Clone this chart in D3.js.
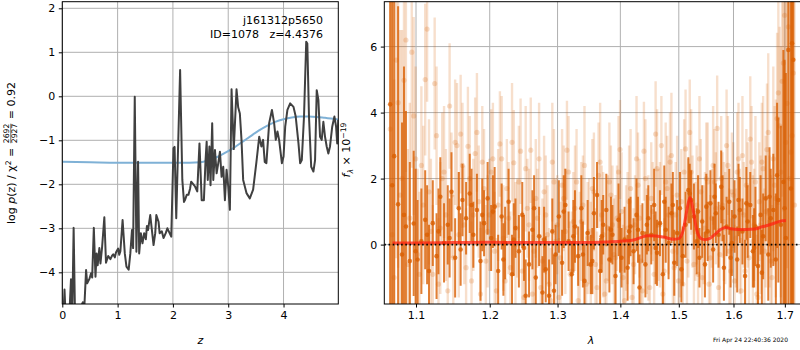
<!DOCTYPE html>
<html><head><meta charset="utf-8">
<script src="https://cdn.jsdelivr.net/npm/d3@7"></script>
<style>
body{margin:0;background:#fff}
svg{display:block;font-family:"DejaVu Sans",sans-serif}
text{white-space:pre}
</style></head><body>
<svg id="fig" width="800" height="350"></svg>
<script>
// ---- redshift probability: log p(z) ----
const zGrid = [0.00,0.02,0.04,0.06,0.10,0.13,0.157,0.18,0.205,0.23,0.27,0.32,0.37,0.40,0.43,0.45,0.49,0.52,0.54,0.57,
  0.60,0.62,0.64,0.67,0.69,0.72,0.76,0.79,0.83,0.87,0.90,0.92,0.95,0.97,1.01,1.03,1.05,1.09,1.13,1.16,
  1.20,1.23,1.26,1.28,1.31,1.34,1.37,1.39,1.42,1.45,1.48,1.51,1.53,1.55,1.59,1.62,1.65,1.68,1.70,1.74,
  1.76,1.80,1.83,1.87,1.90,1.94,1.97,2.01,2.03,2.06,2.13,2.17,2.20,2.22,2.25,2.28,2.31,2.33,2.37,2.40,
  2.44,2.48,2.52,2.56,2.59,2.61,2.63,2.66,2.68,2.71,2.73,2.76,2.79,2.82,2.85,2.88,2.91,2.94,2.97,3.00,
  3.03,3.06,3.10,3.15,3.18,3.21,3.24,3.27,3.33,3.39,3.45,3.51,3.56,3.60,3.63,3.66,3.69,3.74,3.79,3.83,
  3.86,3.89,3.92,3.97,4.00,4.03,4.07,4.12,4.18,4.22,4.27,4.30,4.33,4.37,4.41,4.43,4.46,4.50,4.54,4.57,
  4.60,4.63,4.66,4.69,4.72,4.75,4.78,4.81,4.84,4.88,4.92,4.95,4.97,4.99];
const logPz = [-4.75,-5.0,-4.39,-5.0,-5.1,-4.9,-4.16,-5.0,-2.99,-5.0,-5.1,-4.85,-4.68,-4.75,-3.95,-4.25,-4.15,-4.02,-4.12,-2.99,
  -4.10,-3.57,-3.84,-3.45,-3.80,-3.42,-2.75,-3.78,-3.63,-3.70,-3.62,-3.59,-3.66,-3.55,-3.46,-3.60,-3.52,-2.81,-3.57,-3.87,
  -3.94,-3.57,-3.04,-3.45,-0.01,-3.53,-1.49,-3.57,-3.11,-3.34,-3.11,-3.25,-2.95,-3.04,-2.70,-3.04,-3.38,-3.11,-2.70,-2.85,
  -3.11,-3.07,-3.22,-3.11,-3.00,-3.11,-3.19,-1.18,-1.15,-2.77,0.60,-1.90,-2.40,-2.35,-2.24,-2.24,-2.10,-1.94,-2.00,-2.05,
  -2.16,-1.07,-2.36,-2.36,-1.45,-1.03,-1.90,-1.14,-2.02,-0.61,-1.90,-1.22,-1.75,-1.52,-1.26,-1.83,-1.60,-2.36,-1.67,-2.05,
  -2.58,0.16,-1.20,0.16,-0.25,-0.39,-0.99,-1.90,-2.20,-2.32,-2.12,-1.49,-0.92,-1.14,-0.99,-1.49,-1.52,-0.61,-0.31,-0.61,
  -0.99,-0.80,-0.99,-1.52,-1.37,-0.69,-0.31,-0.16,-0.24,-0.46,-1.07,-1.52,-1.45,-0.46,1.24,1.20,-0.46,-1.60,-1.71,-1.45,
  0.14,-0.08,-0.92,-0.99,-0.58,-0.92,-1.14,-1.30,-1.14,-0.69,-0.46,-0.69,-1.07,-0.54];

// smooth prior curve
const priorZ = [0,0.5,1.0,1.5,2.0,2.3,2.5,2.65,2.8,2.95,3.1,3.25,3.4,3.55,3.7,3.85,4.0,4.15,4.3,4.45,4.6,4.75,4.9,4.99];
const priorLogP = [-1.49,-1.50,-1.51,-1.51,-1.51,-1.51,-1.50,-1.45,-1.38,-1.28,-1.17,-1.04,-0.91,-0.78,-0.67,-0.58,-0.52,-0.48,-0.46,-0.46,-0.47,-0.49,-0.51,-0.53];

// ---- 1D spectra: wavelength grids shared by the beams ----
const waveA = [1.067,1.072,1.077,1.082,1.087,1.092,1.097,1.102,1.107,1.112,
  1.117,1.122,1.127,1.132,1.137,1.142,1.147,1.152,1.157,1.162,
  1.167,1.172,1.177,1.182,1.187,1.192,1.197,1.202,1.207,1.212,
  1.217,1.222,1.227,1.232,1.237,1.242,1.247,1.252,1.257,1.262,
  1.267,1.272,1.277,1.282,1.287,1.292,1.297,1.302,1.307,1.312,
  1.317,1.322,1.327,1.332,1.337,1.342,1.347,1.352,1.357,1.362,
  1.367,1.372,1.377,1.382,1.387,1.392,1.397,1.402,1.407,1.412,
  1.417,1.422,1.427,1.432,1.437,1.442,1.447,1.452,1.457,1.462,
  1.467,1.472,1.477,1.482,1.487,1.492,1.497,1.502,1.507,1.512,
  1.517,1.522,1.527,1.532,1.537,1.542,1.547,1.552,1.557,1.562,
  1.567,1.572,1.577,1.582,1.587,1.592,1.597,1.602,1.607,1.612,
  1.617,1.622,1.627,1.632,1.637,1.642,1.647,1.652,1.657,1.662,
  1.667,1.672,1.677,1.682,1.687,1.692,1.697,1.702,1.707,1.712,1.717];
const waveB = [1.0695,1.0745,1.0795,1.0845,1.0895,1.0945,1.0995,1.1045,1.1095,1.1145,
  1.1195,1.1245,1.1295,1.1345,1.1395,1.1445,1.1495,1.1545,1.1595,1.1645,
  1.1695,1.1745,1.1795,1.1845,1.1895,1.1945,1.1995,1.2045,1.2095,1.2145,
  1.2195,1.2245,1.2295,1.2345,1.2395,1.2445,1.2495,1.2545,1.2595,1.2645,
  1.2695,1.2745,1.2795,1.2845,1.2895,1.2945,1.2995,1.3045,1.3095,1.3145,
  1.3195,1.3245,1.3295,1.3345,1.3395,1.3445,1.3495,1.3545,1.3595,1.3645,
  1.3695,1.3745,1.3795,1.3845,1.3895,1.3945,1.3995,1.4045,1.4095,1.4145,
  1.4195,1.4245,1.4295,1.4345,1.4395,1.4445,1.4495,1.4545,1.4595,1.4645,
  1.4695,1.4745,1.4795,1.4845,1.4895,1.4945,1.4995,1.5045,1.5095,1.5145,
  1.5195,1.5245,1.5295,1.5345,1.5395,1.5445,1.5495,1.5545,1.5595,1.5645,
  1.5695,1.5745,1.5795,1.5845,1.5895,1.5945,1.5995,1.6045,1.6095,1.6145,
  1.6195,1.6245,1.6295,1.6345,1.6395,1.6445,1.6495,1.6545,1.6595,1.6645,
  1.6695,1.6745,1.6795,1.6845,1.6895,1.6945,1.6995,1.7045,1.7095,1.7145,1.7195];
const waveC = [1.0695,1.0845,1.0995,1.1145,1.1295,1.1445,1.1595,1.1745,1.1895,1.2045,
  1.2195,1.2345,1.2495,1.2645,1.2795,1.2945,1.3095,1.3245,1.3395,1.3545,
  1.3695,1.3845,1.3995,1.4145,1.4295,1.4445,1.4595,1.4745,1.4895,1.5045,
  1.5195,1.5345,1.5495,1.5645,1.5795,1.5945,1.6095,1.6245,1.6395,1.6545,
  1.6695,1.6845,1.6995,1.7145];

// beam 1 (strong) on grid A
const fluxA = [4.25,2.68,1.22,-0.30,0.55,-0.50,0.64,-0.45,0.10,0.75,
  -0.80,0.65,-0.35,1.45,0.05,0.60,1.60,-0.40,1.10,1.35,
  0.80,1.55,0.30,1.05,-0.50,0.65,1.40,0.20,1.15,-0.80,
  0.85,0.05,1.30,-0.90,0.50,-0.20,0.90,-1.55,-0.60,0.45,
  -1.00,0.25,-1.45,-0.75,-1.55,0.40,-0.30,0.85,-0.55,1.20,
  0.10,-0.90,0.55,-0.35,1.10,-1.10,0.35,-0.60,0.95,1.50,
  -0.80,0.60,1.05,-0.45,0.30,-0.95,0.75,-0.40,0.15,-0.70,
  0.55,-0.20,0.90,-1.30,0.35,-0.60,0.80,0.30,1.20,-0.25,
  0.65,-0.90,0.45,0.05,0.95,-0.55,0.35,1.10,-0.35,0.60,
  1.65,1.35,0.85,0.10,-0.40,0.70,-0.60,0.40,1.25,-0.15,
  0.95,0.30,1.75,-0.70,0.55,1.30,0.05,0.85,-0.45,1.05,
  0.40,-0.95,0.70,1.20,-0.20,0.55,-0.65,0.90,0.25,1.40,
  -0.30,0.80,1.05,-0.45,1.35,0.60,1.90,0.20,5.90,1.70,5.60];
const errA = [9,8,6,4,3.5,3,2.2,1.8,1.6,1.5,
  1.4,1.3,1.3,1.2,1.2,1.2,1.2,1.2,1.1,1.1,
  1.1,1.2,1.0,1.1,1.2,1.0,1.1,1.0,1.2,1.1,
  1.0,1.1,1.0,1.2,0.9,1.1,1.0,1.1,1.0,1.2,
  1.0,0.9,1.1,1.0,1.1,1.0,0.9,1.1,1.0,1.1,
  0.9,1.0,1.1,0.9,1.0,1.1,1.0,0.9,1.1,1.0,
  1.0,0.9,1.1,1.0,0.9,1.0,1.1,0.9,1.0,1.0,
  0.9,1.0,1.1,1.0,0.9,1.0,1.0,0.9,1.1,1.0,
  1.0,0.9,1.0,1.1,0.9,1.0,1.0,1.1,0.9,1.0,
  1.0,0.9,1.0,1.0,0.9,1.1,1.0,0.9,1.0,1.0,
  0.9,1.0,1.1,1.0,0.9,1.0,1.0,1.1,1.0,1.0,
  1.0,1.1,1.1,1.0,1.1,1.2,1.2,1.2,1.3,1.3,
  1.4,1.5,1.7,2.0,2.5,3.0,4.0,5.0,8,8,9];

// beam 2 (strong, partial coverage) on grid C
const fluxC = [1.80,0.90,-0.20,0.30,0.40,0.20,-0.15,1.20,0.90,1.00,
  -0.45,0.15,-0.10,1.10,0.15,-1.40,1.00,0.25,-0.30,-0.50,
  0.25,0.45,0.05,0.40,0.45,0.60,-0.10,1.30,1.20,-0.75,
  1.55,1.00,1.15,1.45,1.10,-0.40,1.35,1.25,-0.10,-0.85,
  1.45,2.10,1.10,6.10];
const errC = [8,4.5,2.5,1.5,1.3,1.2,1.1,1.1,1.1,1.1,
  1.1,1.1,1.0,1.0,1.0,1.1,1.1,1.1,1.0,1.0,
  1.1,1.0,0.9,1.0,1.0,0.9,1.1,1.1,1.0,1.0,
  0.9,1.1,1.0,1.0,1.0,0.9,1.1,1.1,1.2,1.3,
  1.5,2.2,4.5,8];

// contaminated beams (faint) on grid B and grid A
const fluxB = [0.3,5.59,1.5,4.98,-0.6,5.83,2.6,-0.9,1.2,6.53,
  0.4,4.88,-1.2,2.0,0.9,4.2,-0.4,3.0,3.35,0.6,
  2.98,-1.1,2.76,1.3,2.5,-0.5,0.9,2.6,-1.4,3.05,
  0.2,1.7,-0.7,2.48,0.5,2.83,-1.6,1.1,2.86,-0.2,
  0.8,-1.3,1.6,0.3,-1.7,1.9,0.6,-0.4,1.4,2.86,
  -0.9,0.7,1.9,-0.1,1.2,-1.2,0.4,1.7,-0.6,2.1,
  0.9,-1.5,0.5,1.5,-0.3,0.8,2.88,-1.0,0.2,1.3,
  -1.6,0.6,1.8,-0.5,2.83,0.1,-1.3,1.0,3.35,0.6,
  3.0,-0.8,1.7,2.5,-0.2,0.9,-1.1,1.3,2.2,-0.5,
  3.4,1.0,0.4,-0.9,1.6,0.3,2.0,-1.2,0.8,1.9,
  3.52,-0.3,1.2,0.5,2.4,-0.8,1.5,0.2,2.6,-1.4,
  0.9,1.8,-0.4,2.5,0.6,-1.5,1.3,2.5,-0.2,2.88,
  0.7,-1.0,1.8,3.82,3.6,4.95,6.95,4.28,2.0,3.3,1.2];
const errB = [8,6,5,4,3.5,3.5,2.8,2.5,2.4,2.2,
  2.2,2.0,2.0,2.0,2.0,1.9,1.9,1.9,1.8,1.8,
  1.8,1.8,1.7,1.7,1.7,1.7,1.7,1.7,1.6,1.6,
  1.6,1.5,1.7,1.6,1.5,1.6,1.7,1.5,1.6,1.6,
  1.5,1.6,1.7,1.5,1.6,1.6,1.5,1.7,1.6,1.5,
  1.6,1.5,1.6,1.7,1.5,1.6,1.6,1.5,1.7,1.6,
  1.5,1.6,1.6,1.5,1.7,1.6,1.5,1.6,1.6,1.7,
  1.6,1.5,1.6,1.7,1.5,1.6,1.6,1.5,1.6,1.7,
  1.5,1.6,1.6,1.5,1.7,1.6,1.5,1.6,1.6,1.5,
  1.6,1.7,1.5,1.6,1.6,1.5,1.7,1.6,1.5,1.6,
  1.6,1.5,1.6,1.7,1.5,1.6,1.6,1.5,1.7,1.6,
  1.6,1.7,1.7,1.7,1.7,1.8,1.8,1.8,1.9,2.0,
  2.0,2.2,2.4,2.6,3.0,3.5,4.5,5,6,7,8];
const fluxD = [3.5,-1.0,4.3,2.0,6.2,0.8,3.9,-0.3,2.4,5.0,
  1.6,-0.9,3.3,0.5,2.2,-1.4,1.5,3.1,0.3,2.4,
  -0.7,2.0,0.9,3.4,-1.5,1.7,0.4,2.2,-0.2,1.2,
  2.6,-1.1,0.8,3.1,0.0,1.9,-0.8,2.3,0.6,-1.5,
  1.4,2.6,-0.5,0.9,-1.2,2.5,0.1,-1.6,1.8,0.4,
  2.2,-0.8,1.1,-1.7,0.7,2.4,0.2,-0.6,1.6,-1.3,
  2.5,0.3,-1.1,1.9,0.6,-0.4,2.2,1.0,-1.7,0.5,
  1.7,-0.6,2.6,0.8,-1.4,2.0,0.2,1.4,-0.9,2.3,
  0.6,-1.5,1.9,0.9,2.7,-0.7,1.5,0.3,-1.2,2.9,
  0.8,2.2,-0.6,1.2,2.6,-1.0,0.5,1.9,-0.4,2.4,
  1.1,-1.3,2.0,0.7,3.0,-0.2,1.6,-1.1,2.2,0.4,
  2.7,-0.8,1.2,3.2,0.1,1.9,-1.6,0.6,2.3,1.0,
  3.4,-0.5,2.6,1.4,4.6,2.2,5.5,3.1,6.6,2.8,5.2];
const errD = [7,6,5,4.5,4,3.5,3,2.6,2.4,2.3,
  2.2,2.1,2.1,2.0,2.0,2.0,1.9,1.9,1.9,1.9,
  1.8,1.9,1.7,1.8,2.0,1.8,1.7,1.9,1.8,1.7,
  1.9,1.8,1.7,1.8,1.9,1.7,1.8,1.9,1.7,1.8,
  1.8,1.7,1.9,1.8,1.7,1.8,1.9,1.8,1.7,1.9,
  1.7,1.8,1.9,1.7,1.8,1.8,1.7,1.9,1.8,1.7,
  1.8,1.9,1.7,1.8,1.8,1.9,1.7,1.8,1.9,1.7,
  1.8,1.7,1.9,1.8,1.7,1.8,1.9,1.7,1.8,1.8,
  1.9,1.7,1.8,1.8,1.9,1.7,1.8,1.9,1.7,1.8,
  1.8,1.9,1.7,1.8,1.9,1.8,1.7,1.8,1.9,1.8,
  1.7,1.8,1.9,1.8,1.7,1.9,1.8,1.7,1.8,1.9,
  1.8,1.9,1.9,1.9,2.0,2.0,2.1,2.1,2.2,2.3,
  2.4,2.6,2.8,3.0,3.4,3.8,4.5,5.5,6.5,7.5,8];

// best-fit template
const modelWave = [1.070,1.10,1.15,1.20,1.25,1.30,1.35,1.38,1.40,1.42,1.435,1.445,1.46,1.475,1.49,1.50,1.508,1.515,1.520,1.525,1.532,1.540,1.548,1.555,1.565,1.575,1.585,1.595,1.61,1.625,1.64,1.655,1.67,1.685,1.695,1.702];
const modelFlux = [0.05,0.05,0.06,0.07,0.06,0.06,0.06,0.08,0.10,0.13,0.22,0.27,0.26,0.22,0.16,0.18,0.45,1.10,1.43,1.10,0.45,0.18,0.15,0.18,0.30,0.45,0.52,0.48,0.46,0.46,0.47,0.54,0.60,0.68,0.72,0.73];

const zTicks = [0,1,2,3,4];
const pzTicks = [-4,-3,-2,-1,0,1,2];
const waveTicks = [1.1,1.2,1.3,1.4,1.5,1.6,1.7];
const fluxTicks = [0,2,4,6];

const svg = d3.select("#fig");
const FS = 11;
const gridColor = "#b0b0b0";

function styleAxis(g){
  g.select(".domain").remove();
  g.selectAll("text").attr("font-size",FS).attr("font-family","DejaVu Sans").attr("fill","#000");
}

// ---------- left panel ----------
const L = {x0: 62.3, x1: 338.3, y0: 1.7, y1: 304};
const xz = d3.scaleLinear().domain([0, 4.99]).range([L.x0, L.x1]);
const yp = d3.scaleLinear().domain([-4.72, 2.15]).range([L.y1, L.y0]);

svg.append("clipPath").attr("id","clipL").append("rect")
  .attr("x",L.x0).attr("y",L.y0).attr("width",L.x1-L.x0).attr("height",L.y1-L.y0);

const gL = svg.append("g");
const gridL = gL.append("g").attr("stroke",gridColor).attr("stroke-width",1);
zTicks.forEach(t => gridL.append("line").attr("x1",xz(t)).attr("x2",xz(t)).attr("y1",L.y0).attr("y2",L.y1));
pzTicks.forEach(t => gridL.append("line").attr("x1",L.x0).attr("x2",L.x1).attr("y1",yp(t)).attr("y2",yp(t)));

const plotL = gL.append("g").attr("clip-path","url(#clipL)");
plotL.append("path")
  .datum(priorZ.map((z,i)=>[z, priorLogP[i]]))
  .attr("fill","none").attr("stroke","#7fb1d6").attr("stroke-width",2)
  .attr("d", d3.line().x(d=>xz(d[0])).y(d=>yp(d[1])).curve(d3.curveMonotoneX));
plotL.append("path")
  .datum(zGrid.map((z,i)=>[z, logPz[i]]))
  .attr("fill","none").attr("stroke","#404040").attr("stroke-width",2).attr("stroke-linejoin","round")
  .attr("d", d3.line().x(d=>xz(d[0])).y(d=>yp(d[1])));

gL.append("g").attr("transform",`translate(0,${L.y1})`)
  .call(d3.axisBottom(xz).tickValues(zTicks).tickFormat(d3.format("d")).tickSize(3.5).tickPadding(3.5).tickSizeOuter(0))
  .call(styleAxis);
gL.append("g").attr("transform",`translate(${L.x0},0)`)
  .call(d3.axisLeft(yp).tickValues(pzTicks).tickFormat(d3.format("d")).tickSize(3.5).tickPadding(3.5).tickSizeOuter(0))
  .call(styleAxis);
gL.append("rect").attr("x",L.x0).attr("y",L.y0).attr("width",L.x1-L.x0).attr("height",L.y1-L.y0)
  .attr("fill","none").attr("stroke","#000").attr("stroke-width",1);

gL.append("text").attr("x",323).attr("y",24).attr("text-anchor","end").attr("font-size",FS).text("j161312p5650");
gL.append("text").attr("x",323).attr("y",38).attr("text-anchor","end").attr("font-size",FS).text("ID=1078   z=4.4376");
gL.append("text").attr("x",(L.x0+L.x1)/2).attr("y",344).attr("text-anchor","middle").attr("font-size",FS)
  .attr("font-style","italic").text("z");

// rotated label built from pieces laid out along the baseline
function rotatedLabel(cx, cy, pieces){
  const g = svg.append("g").attr("transform",`translate(${cx},${cy}) rotate(-90)`);
  let u = 0;
  const placed = [];
  pieces.forEach(p => {
    if (p.frac){
      const n = g.append("text").attr("font-size",p.size).text(p.num);
      const d = g.append("text").attr("font-size",p.size).text(p.den);
      const w = Math.max(n.node().getComputedTextLength(), d.node().getComputedTextLength());
      const bar = g.append("line").attr("stroke","#000").attr("stroke-width",0.6);
      placed.push({u:u+1, w, n, d, bar, frac:true, p});
      u += w + 2;
    } else {
      const t = g.append("text").attr("font-size",p.size||FS).attr("font-style",p.italic?"italic":null).text(p.t);
      const w = t.node().getComputedTextLength();
      placed.push({u, w, t, p});
      u += w;
    }
  });
  const off = -u/2;
  placed.forEach(q => {
    if (q.frac){
      q.n.attr("x", off+q.u+(q.w-q.n.node().getComputedTextLength())/2).attr("y", q.p.numY);
      q.d.attr("x", off+q.u+(q.w-q.d.node().getComputedTextLength())/2).attr("y", q.p.denY);
      q.bar.attr("x1",off+q.u).attr("x2",off+q.u+q.w).attr("y1",q.p.barY).attr("y2",q.p.barY);
    } else {
      q.t.attr("x", off+q.u).attr("y", q.p.dy||0);
    }
  });
}

rotatedLabel(15, 153, [
  {t:"log "}, {t:"p", italic:true}, {t:"(z) / "}, {t:"χ"}, {t:"2", size:7.7, dy:-4.5},
  {t:" = "}, {frac:true, num:"2692", den:"2927", size:7.7, numY:-5.6, denY:1.6, barY:-4.2},
  {t:" = 0.92"}
]);

// ---------- right panel ----------
const R = {x0: 384.3, x1: 801, y0: 1.7, y1: 304};
const xw = d3.scaleLog().domain([1.0596, 1.7327]).range([R.x0, R.x1]);
const yf = d3.scaleLinear().domain([-1.8, 7.36]).range([R.y1, R.y0]);

svg.append("clipPath").attr("id","clipR").append("rect")
  .attr("x",R.x0).attr("y",R.y0).attr("width",R.x1-R.x0).attr("height",R.y1-R.y0);

const gR = svg.append("g");
const gridR = gR.append("g").attr("stroke",gridColor).attr("stroke-width",1);
waveTicks.forEach(t => gridR.append("line").attr("x1",xw(t)).attr("x2",xw(t)).attr("y1",R.y0).attr("y2",R.y1));
fluxTicks.forEach(t => gridR.append("line").attr("x1",R.x0).attr("x2",R.x1).attr("y1",yf(t)).attr("y2",yf(t)));

const plotR = gR.append("g").attr("clip-path","url(#clipR)");
const orange = "#d95f02";

function errorSeries(wave, flux, err, opacity, barW, r){
  const g = plotR.append("g");
  const data = wave.map((w,i)=>({w, f:flux[i], e:err[i]}));
  g.selectAll("line").data(data).join("line")
    .attr("x1",d=>xw(d.w)).attr("x2",d=>xw(d.w))
    .attr("y1",d=>yf(d.f-d.e)).attr("y2",d=>yf(d.f+d.e))
    .attr("stroke",orange).attr("stroke-opacity",opacity).attr("stroke-width",barW);
  g.selectAll("circle").data(data).join("circle")
    .attr("cx",d=>xw(d.w)).attr("cy",d=>yf(d.f)).attr("r",r)
    .attr("fill",orange).attr("fill-opacity",opacity);
}
errorSeries(waveB, fluxB, errB, 0.2, 2.4, 2.6);
errorSeries(waveA, fluxD, errD, 0.2, 2.4, 2.6);
errorSeries(waveA, fluxA, errA, 0.8, 2, 2.3);
errorSeries(waveC, fluxC, errC, 0.8, 2, 2.3);

plotR.append("path")
  .datum(modelWave.map((w,i)=>[w, modelFlux[i]]))
  .attr("fill","none").attr("stroke","#ff2010").attr("stroke-opacity",0.75).attr("stroke-width",3)
  .attr("stroke-linejoin","round")
  .attr("d", d3.line().x(d=>xw(d[0])).y(d=>yf(d[1])).curve(d3.curveMonotoneX));

plotR.append("line").attr("x1",R.x0).attr("x2",R.x1).attr("y1",yf(0)).attr("y2",yf(0))
  .attr("stroke","#000").attr("stroke-width",1.6).attr("stroke-dasharray","1.6,2.6");

gR.append("g").attr("transform",`translate(0,${R.y1})`)
  .call(d3.axisBottom(xw).tickValues(waveTicks).tickFormat(d3.format(".1f")).tickSize(3.5).tickPadding(3.5).tickSizeOuter(0))
  .call(styleAxis);
gR.append("g").attr("transform",`translate(${R.x0},0)`)
  .call(d3.axisLeft(yf).tickValues(fluxTicks).tickFormat(d3.format("d")).tickSize(3.5).tickPadding(3.5).tickSizeOuter(0))
  .call(styleAxis);
gR.append("rect").attr("x",R.x0).attr("y",R.y0).attr("width",R.x1-R.x0).attr("height",R.y1-R.y0)
  .attr("fill","none").attr("stroke","#000").attr("stroke-width",1);

gR.append("text").attr("x",591).attr("y",344).attr("text-anchor","middle").attr("font-size",FS)
  .attr("font-style","italic").text("λ");

rotatedLabel(350, 150, [
  {t:"f", italic:true}, {t:"λ", italic:true, size:7.7, dy:2.5}, {t:" × 10"}, {t:"−19", size:7.7, dy:-4.5}
]);

svg.append("text").attr("x",788).attr("y",342).attr("text-anchor","end").attr("font-size",6)
  .text("Fri Apr 24 22:40:36 2020");
</script>
</body></html>
